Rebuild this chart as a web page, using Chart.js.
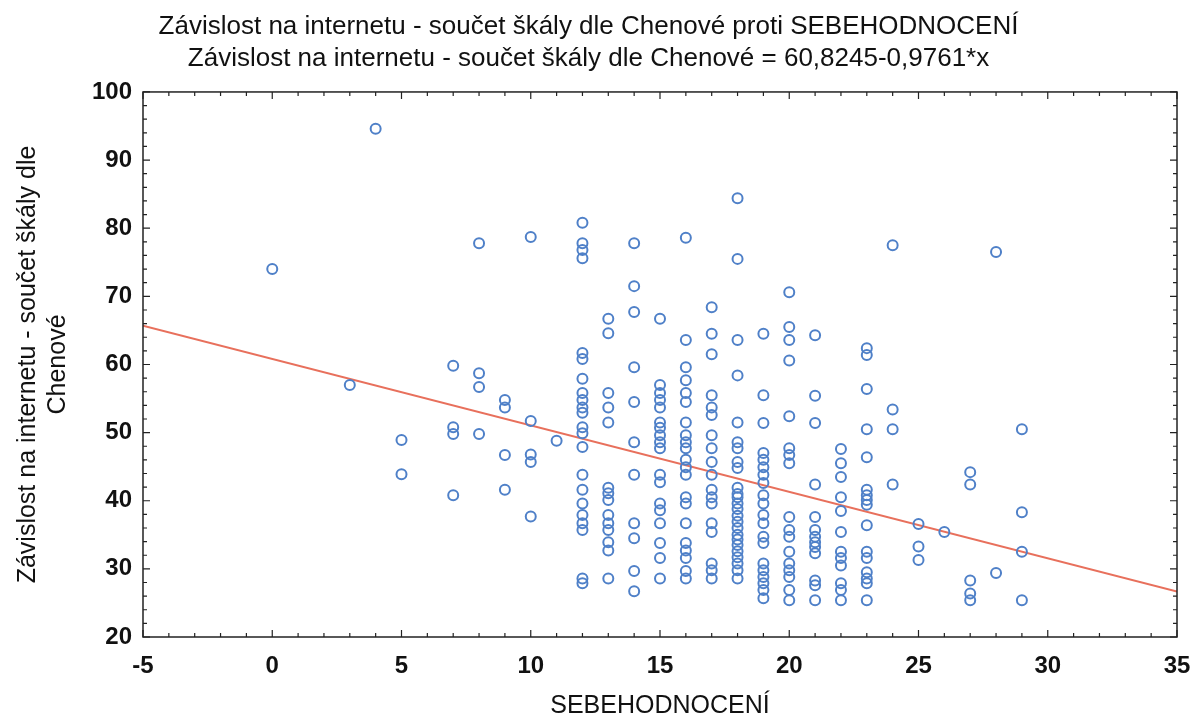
<!DOCTYPE html>
<html>
<head>
<meta charset="utf-8">
<script src="https://cdn.jsdelivr.net/npm/chart.js@4/dist/chart.umd.min.js"></script>
<style>
  html, body { margin: 0; padding: 0; background: #fff; }
  #wrap { width: 1192px; height: 721px; }
</style>
</head>
<body>
<div id="wrap"><canvas id="scatter"></canvas></div>
<script>
// SEBEHODNOCENÍ values, one per column of points
const sebehodnoceni = [0, 3, 4, 5, 7, 8, 9, 10, 11, 12, 13, 14, 15, 16, 17, 18, 19, 20, 21, 22, 23, 24, 25, 26, 27, 28, 29];

// Chen scale sums for each column above (same order)
const chenScores = [
  [74.0],
  [57.0],
  [94.6],
  [48.9, 43.9],
  [59.8, 50.8, 49.8, 40.8],
  [77.8, 58.7, 56.7, 49.8],
  [54.8, 53.7, 46.7, 41.6],
  [78.7, 51.7, 46.8, 45.7, 37.7],
  [48.8],
  [80.8, 77.8, 76.8, 75.6, 61.7, 60.8, 57.9, 55.8, 54.8, 53.7, 52.9, 50.8, 49.9, 47.9, 43.8, 41.6, 39.6, 37.9, 36.7, 35.7, 28.6, 27.9],
  [66.7, 64.6, 55.8, 53.7, 51.5, 41.9, 41.1, 40.1, 37.9, 36.7, 35.7, 33.9, 32.7, 28.6],
  [77.8, 71.5, 67.7, 59.6, 54.5, 48.6, 43.8, 36.7, 34.5, 29.7, 26.7],
  [66.7, 57.0, 55.8, 54.8, 53.7, 51.5, 50.7, 49.6, 48.6, 47.7, 43.8, 42.7, 39.6, 38.6, 36.7, 33.8, 31.6, 28.6],
  [78.6, 63.6, 59.6, 57.7, 55.8, 54.5, 51.5, 49.6, 48.6, 47.7, 46.0, 44.9, 43.8, 40.5, 39.6, 36.7, 33.8, 32.7, 31.6, 29.7, 28.6],
  [68.4, 64.5, 61.5, 55.5, 53.7, 52.6, 49.6, 47.7, 45.7, 43.8, 41.6, 40.5, 39.6, 36.7, 35.4, 30.8, 29.8, 28.6],
  [84.4, 75.5, 63.6, 58.4, 51.5, 48.6, 47.7, 45.7, 44.8, 41.9, 41.0, 40.5, 39.6, 38.8, 37.8, 36.9, 36.0, 35.0, 34.3, 33.5, 32.6, 31.7, 30.8, 29.8, 28.6],
  [64.5, 55.5, 51.4, 47.0, 46.0, 44.9, 43.8, 42.6, 40.8, 39.6, 37.9, 36.7, 34.7, 33.8, 30.8, 29.8, 28.8, 27.9, 26.9, 25.7],
  [70.6, 65.5, 63.6, 60.6, 52.4, 47.7, 46.7, 45.5, 37.6, 35.7, 34.7, 32.5, 30.8, 29.8, 28.8, 26.9, 25.4],
  [64.3, 55.4, 51.4, 42.4, 37.6, 35.7, 34.7, 33.9, 33.2, 32.3, 28.3, 27.6, 25.4],
  [47.6, 45.5, 43.5, 40.5, 38.5, 35.4, 32.5, 31.6, 30.5, 27.9, 26.9, 25.4],
  [62.4, 61.4, 56.4, 50.5, 46.4, 41.6, 40.8, 40.1, 39.4, 36.4, 32.5, 31.6, 29.5, 28.6, 27.9, 25.4],
  [77.5, 53.4, 50.5, 42.4],
  [36.6, 33.3, 31.3],
  [35.4],
  [44.2, 42.4, 28.3, 26.4, 25.4],
  [76.5, 29.4],
  [50.5, 38.3, 32.5, 25.4]
];

// regression from the title: y = 60,8245 - 0,9761*x
const intercept = 60.8245;
const slope = -0.9761;
const xRange = [-5, 35];

const xTicks = [-5, 0, 5, 10, 15, 20, 25, 30, 35];
const yTicks = [20, 30, 40, 50, 60, 70, 80, 90, 100];

const points = [];
sebehodnoceni.forEach((x, i) => {
  chenScores[i].forEach(y => points.push({ x: x, y: y }));
});
const fitLine = xRange.map(x => ({ x: x, y: intercept + slope * x }));

// frame plus inward major/minor ticks on all four sides
const frameTicks = {
  id: 'frameTicks',
  afterDraw(chart) {
    const { ctx, chartArea: a, scales: { x, y } } = chart;
    ctx.save();
    ctx.strokeStyle = '#222';
    ctx.lineWidth = 1.5;
    ctx.strokeRect(a.left, a.top, a.right - a.left, a.bottom - a.top);
    ctx.lineWidth = 1.2;
    ctx.beginPath();
    for (let v = xRange[0]; v <= xRange[1]; v++) {
      const px = x.getPixelForValue(v);
      const len = v % 5 === 0 ? 7 : 4;
      ctx.moveTo(px, a.bottom); ctx.lineTo(px, a.bottom - len);
      ctx.moveTo(px, a.top); ctx.lineTo(px, a.top + len);
    }
    for (let v = 20; v <= 100; v += 2) {
      const py = y.getPixelForValue(v);
      const len = v % 10 === 0 ? 7 : 4;
      ctx.moveTo(a.left, py); ctx.lineTo(a.left + len, py);
      ctx.moveTo(a.right, py); ctx.lineTo(a.right - len, py);
    }
    ctx.stroke();
    ctx.restore();
  }
};

const family = 'Liberation Sans, Arial, sans-serif';
const tickFont = { family: family, size: 24, weight: 'bold' };

new Chart(document.getElementById('scatter'), {
  type: 'scatter',
  data: {
    datasets: [
      {
        label: 'Závislost na internetu',
        data: points,
        pointStyle: 'circle',
        pointRadius: 5,
        pointBorderWidth: 2,
        pointBackgroundColor: 'rgba(255,255,255,0)',
        pointBorderColor: '#4f80c8',
        order: 1
      },
      {
        type: 'line',
        label: 'fit',
        data: fitLine,
        borderColor: '#e8705c',
        borderWidth: 2,
        pointRadius: 0,
        order: 2
      }
    ]
  },
  options: {
    responsive: true,
    maintainAspectRatio: false,
    animation: false,
    layout: { padding: { left: 0, right: 15, top: 0, bottom: 0 } },
    plugins: {
      legend: { display: false },
      tooltip: { enabled: false },
      title: {
        display: true,
        text: [
          'Závislost na internetu - součet škály dle Chenové proti SEBEHODNOCENÍ',
          'Závislost na internetu - součet škály dle Chenové = 60,8245-0,9761*x'
        ],
        color: '#111',
        font: { family: family, size: 26, weight: 'normal', lineHeight: 1.23 },
        padding: { top: 11, bottom: 17 }
      }
    },
    scales: {
      x: {
        type: 'linear',
        min: -5,
        max: 35,
        afterBuildTicks(scale) { scale.ticks = xTicks.map(v => ({ value: v })); },
        afterFit(scale) {
          scale.height = 84;
          scale.paddingRight = 0;
          scale.paddingLeft = 0;
        },
        grid: { display: false },
        border: { display: false },
        ticks: { color: '#111', font: tickFont, padding: 7 },
        title: {
          display: true,
          text: 'SEBEHODNOCENÍ',
          color: '#111',
          font: { family: family, size: 25, lineHeight: 1.2 },
          padding: { top: 0, bottom: 0 }
        }
      },
      y: {
        type: 'linear',
        min: 20,
        max: 100,
        afterBuildTicks(scale) { scale.ticks = yTicks.map(v => ({ value: v })); },
        afterFit(scale) { scale.width = 143; },
        grid: { display: false },
        border: { display: false },
        ticks: { color: '#111', font: tickFont, padding: 3 },
        title: {
          display: true,
          text: ['Závislost na internetu - součet škály dle', 'Chenové'],
          color: '#111',
          font: { family: family, size: 25, lineHeight: 1.2 },
          padding: { top: 13, bottom: 0 }
        }
      }
    }
  },
  plugins: [frameTicks]
});
</script>
</body>
</html>
